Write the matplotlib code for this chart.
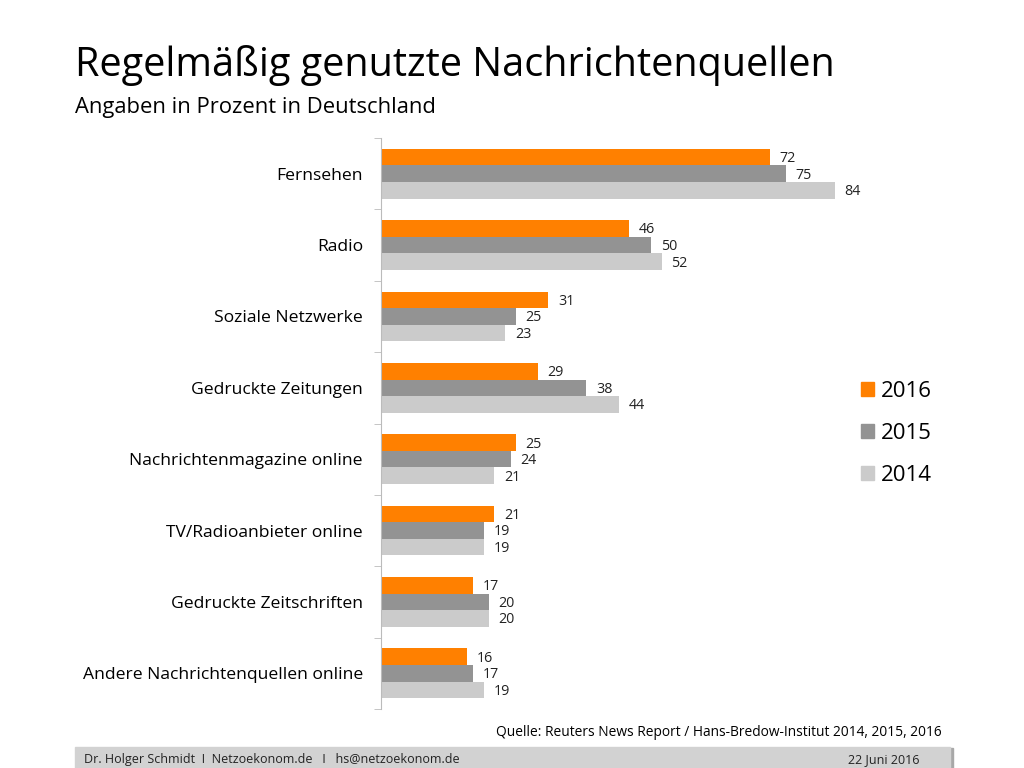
import matplotlib.pyplot as plt
import matplotlib.patches as mpatches
import numpy as np

plt.rcParams['font.family'] = ['Open Sans', 'DejaVu Sans']

categories = ["Fernsehen", "Radio", "Soziale Netzwerke", "Gedruckte Zeitungen",
              "Nachrichtenmagazine online", "TV/Radioanbieter online",
              "Gedruckte Zeitschriften", "Andere Nachrichtenquellen online"]
years = ["2016", "2015", "2014"]
v2016 = [72, 46, 31, 29, 25, 21, 17, 16]
v2015 = [75, 50, 25, 38, 24, 19, 20, 17]
v2014 = [84, 52, 23, 44, 21, 19, 20, 19]
colors = ["#FF8000", "#939393", "#CBCBCB"]

fig = plt.figure(figsize=(10.24, 7.68), dpi=100)
ax = fig.add_axes([381/1024, 1-709/768, 540/1024, 571/768])

n = len(categories)
y = np.arange(n)
h = 0.232
for k, (vals, col) in enumerate(zip([v2016, v2015, v2014], colors)):
    pos = y + (k - 1) * h
    ax.barh(pos, vals, height=h, color=col, label=years[k])
    for p, v in zip(pos, vals):
        ax.text(v + 1.8, p + 0.02, str(v), va='center', ha='left', fontsize=10.3, color='#222222')

ax.set_xlim(0, 100)
ax.set_ylim(n - 0.5, -0.5)
ax.set_yticks(y)
ax.set_yticklabels(categories, fontsize=12.6)
ax.tick_params(axis='y', which='major', length=0, pad=13)
ax.set_yticks(np.arange(-0.5, n), minor=True)
ax.tick_params(axis='y', which='minor', length=5, color='#BBBBBB', direction='out')
ax.set_xticks([])
for s in ['top', 'right', 'bottom']:
    ax.spines[s].set_visible(False)
ax.spines['left'].set_color('#BBBBBB')

# legend
handles = [mpatches.Patch(color=c, label=l) for c, l in zip(colors, years)]
fig.legend(handles=handles, loc='upper left', bbox_to_anchor=(841/1024, 1-361/768),
           frameon=False, fontsize=16, handlelength=0.6, handleheight=0.6,
           labelspacing=0.95, handletextpad=0.3)

fig.text(75/1024, 1-66/768, "Regelmäßig genutzte Nachrichtenquellen", fontsize=28.5,
         va='center', ha='left', color='black')
fig.text(75/1024, 1-108/768, "Angaben in Prozent in Deutschland", fontsize=15.8,
         va='center', ha='left', color='black')
fig.text(942/1024, 1-733/768, "Quelle: Reuters News Report / Hans-Bredow-Institut 2014, 2015, 2016",
         fontsize=9.9, va='center', ha='right', color='black')

# footer bar
fig.patches.append(mpatches.Rectangle((77/1024, 0), 876/1024, 20/768, transform=fig.transFigure,
                                      color='#A8A8A8', zorder=0))
fig.patches.append(mpatches.Rectangle((75/1024, 0), 875/1024, 21/768, transform=fig.transFigure,
                                      color='#D2D2D2', zorder=1))
fig.text(84/1024, 1-760/768, "Dr. Holger Schmidt  I  Netzoekonom.de   I   hs@netzoekonom.de",
         fontsize=9, va='center', ha='left', color='#222222')
fig.text(920/1024, 1-760/768, "22 Juni 2016", fontsize=9, va='center', ha='right', color='#222222')

fig.savefig("out.png", dpi=100)
